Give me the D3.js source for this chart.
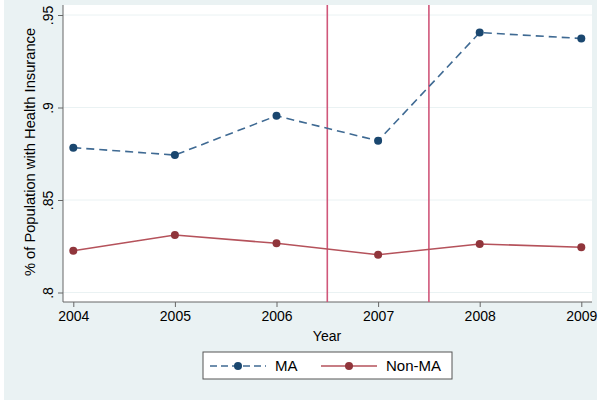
<!DOCTYPE html>
<html>
<head>
<meta charset="utf-8">
<script src="https://cdn.jsdelivr.net/npm/d3@7"></script>
<style>
  body { margin: 0; background: #fff; }
  svg { font-family: "Liberation Sans", Arial, sans-serif; }
</style>
</head>
<body>
<div id="chart-container"></div>
<script>
// chart data
const years = [2004, 2005, 2006, 2007, 2008, 2009];
const maValues = [0.8783, 0.8743, 0.8955, 0.8820, 0.9405, 0.9373];
const nonMaValues = [0.8226, 0.8311, 0.8266, 0.8204, 0.8262, 0.8245];
const yTicks = [0.8, 0.85, 0.9, 0.95];
const yTickLabels = ['.8', '.85', '.9', '.95'];
const policyLines = [2006.5, 2007.5];
const seriesNames = ['MA', 'Non-MA'];

const width = 602, height = 405;
const svg = d3.select('#chart-container').append('svg')
  .attr('width', width).attr('height', height);

// outer graph region
svg.append('rect').attr('x', 4).attr('y', 0).attr('width', 593).attr('height', 400)
  .attr('fill', '#eaf2f3');

const plot = { left: 63, right: 592, top: 5, bottom: 302 };
svg.append('rect')
  .attr('x', plot.left).attr('y', plot.top)
  .attr('width', plot.right - plot.left).attr('height', plot.bottom - plot.top)
  .attr('fill', '#fff');

const xScale = d3.scaleLinear().domain([2004, 2009]).range([73.3, 581.3]);
const yScale = d3.scaleLinear().domain([0.8, 0.95]).range([292.5, 15]);

// gridlines
svg.append('g').selectAll('line').data(yTicks).join('line')
  .attr('x1', plot.left).attr('x2', plot.right)
  .attr('y1', d => yScale(d)).attr('y2', d => yScale(d))
  .attr('stroke', '#eaf2f3').attr('stroke-width', 1);

// y axis
const yAxis = d3.axisLeft(yScale).tickValues(yTicks)
  .tickFormat((d, i) => yTickLabels[i]).tickSize(5).tickPadding(4);
const yAxisGroup = svg.append('g').attr('transform', `translate(${plot.left},0)`).call(yAxis);
yAxisGroup.select('.domain').attr('d', `M0,${plot.top}V${plot.bottom}`).attr('stroke', '#666');
yAxisGroup.selectAll('.tick line').attr('stroke', '#666');
yAxisGroup.selectAll('.tick text')
  .attr('font-size', 14).attr('fill', '#000')
  .attr('text-anchor', 'middle')
  .attr('x', 0).attr('dy', 0)
  .attr('transform', 'translate(-10,0) rotate(-90)');

// x axis
const xAxis = d3.axisBottom(xScale).tickValues(years).tickFormat(d3.format('d')).tickSize(5).tickPadding(4);
const xAxisGroup = svg.append('g').attr('transform', `translate(0,${plot.bottom})`).call(xAxis);
xAxisGroup.select('.domain').attr('d', `M${plot.left},0H${plot.right}`).attr('stroke', '#666');
xAxisGroup.selectAll('.tick line').attr('stroke', '#666');
xAxisGroup.selectAll('.tick text').attr('font-size', 14).attr('fill', '#000');

// axis titles
svg.append('text').attr('x', 327).attr('y', 341).attr('text-anchor', 'middle')
  .attr('font-size', 14).text('Year');
svg.append('text').attr('transform', 'translate(35,152) rotate(-90)')
  .attr('text-anchor', 'middle').attr('font-size', 14.7)
  .text('% of Population with Health Insurance');

// policy lines
svg.append('g').selectAll('line').data(policyLines).join('line')
  .attr('x1', d => xScale(d)).attr('x2', d => xScale(d))
  .attr('y1', plot.top).attr('y2', plot.bottom)
  .attr('stroke', '#d0577a').attr('stroke-width', 1.6);

const colors = ['#1a476f', '#90353b'];
const lineColors = ['#3f6a93', '#b5525b'];
const line = d3.line().x((d, i) => xScale(years[i])).y(d => yScale(d));

[maValues, nonMaValues].forEach((vals, k) => {
  svg.append('path').datum(vals)
    .attr('d', line).attr('fill', 'none')
    .attr('stroke', lineColors[k]).attr('stroke-width', 1.6)
    .attr('stroke-dasharray', k === 0 ? '8,5' : null);
  svg.append('g').selectAll('circle').data(vals).join('circle')
    .attr('cx', (d, i) => xScale(years[i])).attr('cy', d => yScale(d))
    .attr('r', 4).attr('fill', colors[k]);
});

// legend
const legend = svg.append('g');
legend.append('rect').attr('x', 203).attr('y', 352).attr('width', 249).attr('height', 27)
  .attr('fill', '#fff').attr('stroke', '#555').attr('stroke-width', 1);
const legendX = [210, 321];
seriesNames.forEach((name, k) => {
  const x0 = legendX[k];
  legend.append('line').attr('x1', x0).attr('x2', x0 + 56)
    .attr('y1', 366).attr('y2', 366)
    .attr('stroke', lineColors[k]).attr('stroke-width', 1.6)
    .attr('stroke-dasharray', k === 0 ? '7,4' : null);
  legend.append('circle').attr('cx', x0 + 28).attr('cy', 366).attr('r', 4).attr('fill', colors[k]);
  legend.append('text').attr('x', x0 + 65).attr('y', 371).attr('font-size', 15).text(name);
});
</script>
</body>
</html>
